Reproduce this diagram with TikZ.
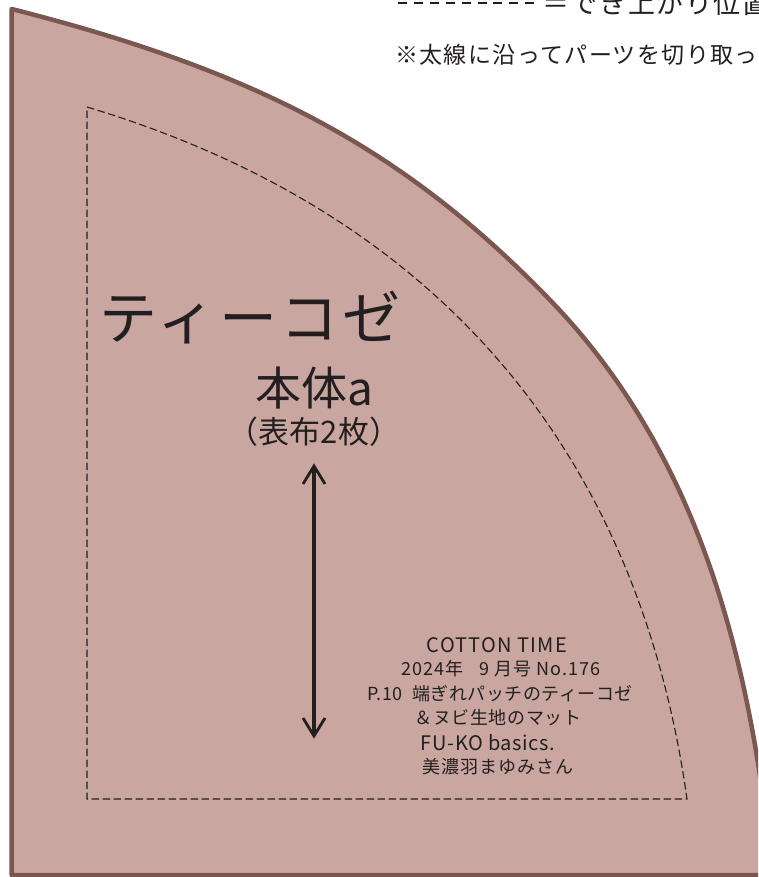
\documentclass[tikz,border=0pt]{standalone}
\usepackage{fontspec}
\setmainfont{Noto Sans CJK JP}
\newfontfamily\jpa[LetterSpace=6]{Noto Sans CJK JP}
\newfontfamily\jpc[LetterSpace=3]{Noto Sans CJK JP}
\definecolor{fabric}{HTML}{C9A7A0}
\definecolor{edge}{HTML}{7B5750}
\definecolor{ink}{HTML}{231F20}
\tikzset{x=1pt,y=-1pt,
 cutline/.style={draw=edge,line width=4.5pt,fill=fabric,line join=round},
 seam/.style={draw=ink,line width=1.1pt,dash pattern=on 7.5pt off 3.5pt},
 lab/.style={inner sep=0pt,text=ink,anchor=center,align=center}}
\begin{document}
\begin{tikzpicture}
\useasboundingbox (0,0) rectangle (758,877);
\clip (0,0) rectangle (758,877);
\fill[white] (0,0) rectangle (758,877);
\draw[cutline] (11.7,9) .. controls (260,72) and (405,150) .. (550,300) .. controls (690,445) and (750,640) .. (772,875) -- (11.7,875) -- cycle;
\draw[seam] (87,107) .. controls (476,224) and (644,493) .. (687,799) -- (87,799) -- cycle;
\coordinate (k1) at (398,3);\coordinate (k2) at (535,3);
\draw[ink,line width=1.1pt,dash pattern=on 9pt off 6.9pt] (k1) -- (k2);
\node[lab,anchor=west,font=\fontsize{27}{27}\selectfont\jpa] (t0) at (542,3) {＝でき上がり位置};
\node[lab,anchor=west,font=\fontsize{23}{23}\selectfont\jpa] (t1) at (395,55) {※太線に沿ってパーツを切り取っ};
\node[lab,font=\fontsize{58}{58}\selectfont\jpa] (title) at (250,318) {ティーコゼ};
\node[lab,font=\fontsize{46}{46}\selectfont] (sub) at (314,388) {本体a};
\node[lab,font=\fontsize{31}{31}\selectfont] (cnt) at (314,432) {（表布2枚）};
\coordinate (a1) at (314,468);\coordinate (a2) at (314,734);
\draw[ink,line width=4pt] (a1) -- (a2);
\draw[ink,line width=2.8pt,line join=miter] (303,484) -- (314,466) -- (325,484);
\draw[ink,line width=2.8pt,line join=miter] (303,718) -- (314,736) -- (325,718);
\node[lab,font=\fontsize{20}{20}\selectfont\jpa] (c1) at (497,645) {COTTON TIME};
\node[lab,font=\fontsize{18}{18}\selectfont\jpa] (c2) at (501,669) {2024年\ \ \ 9 月号 No.176};
\node[lab,font=\fontsize{18}{18}\selectfont\jpc] (c3) at (500,694) {P.10\ \ 端ぎれパッチのティーコゼ};
\node[lab,font=\fontsize{18}{18}\selectfont\jpc] (c4) at (498,718) {＆ヌビ生地のマット};
\node[lab,font=\fontsize{20}{20}\selectfont\jpc] (c5) at (488,743) {FU-KO basics.};
\node[lab,font=\fontsize{18}{18}\selectfont\jpa] (c6) at (498,767) {美濃羽まゆみさん};
\end{tikzpicture}
\end{document}
